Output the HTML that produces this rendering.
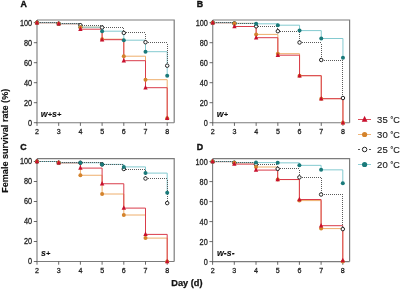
<!DOCTYPE html>
<html><head><meta charset="utf-8"><style>
html,body{margin:0;padding:0;background:#fff;width:400px;height:290px;overflow:hidden}
svg{display:block;will-change:transform;font-family:"Liberation Sans",sans-serif}
</style></head><body>
<svg width="400" height="290" viewBox="0 0 400 290" font-family='"Liberation Sans", sans-serif'>
<path d="M37 20H174.2V122.7" fill="none" stroke="#7c7c7c" stroke-width="1.2"/>
<path d="M37 20V122.7H174.2" fill="none" stroke="#7c7c7c" stroke-width="1.1"/>
<path d="M33.8 122.7H37" stroke="#444444" stroke-width="0.8"/>
<text transform="matrix(0.86 0 0 1 32.1 125.6)" text-anchor="end" font-size="8.5" fill="#1a1a1a" stroke="#222" stroke-width="0.28">0</text>
<path d="M33.8 102.7H37" stroke="#444444" stroke-width="0.8"/>
<text transform="matrix(0.86 0 0 1 32.1 105.6)" text-anchor="end" font-size="8.5" fill="#1a1a1a" stroke="#222" stroke-width="0.28">20</text>
<path d="M33.8 82.7H37" stroke="#444444" stroke-width="0.8"/>
<text transform="matrix(0.86 0 0 1 32.1 85.6)" text-anchor="end" font-size="8.5" fill="#1a1a1a" stroke="#222" stroke-width="0.28">40</text>
<path d="M33.8 62.7H37" stroke="#444444" stroke-width="0.8"/>
<text transform="matrix(0.86 0 0 1 32.1 65.6)" text-anchor="end" font-size="8.5" fill="#1a1a1a" stroke="#222" stroke-width="0.28">60</text>
<path d="M33.8 42.7H37" stroke="#444444" stroke-width="0.8"/>
<text transform="matrix(0.86 0 0 1 32.1 45.6)" text-anchor="end" font-size="8.5" fill="#1a1a1a" stroke="#222" stroke-width="0.28">80</text>
<path d="M33.8 22.7H37" stroke="#444444" stroke-width="0.8"/>
<text transform="matrix(0.86 0 0 1 32.1 25.6)" text-anchor="end" font-size="8.5" fill="#1a1a1a" stroke="#222" stroke-width="0.28">100</text>
<path d="M37 122.7V125.9" stroke="#444444" stroke-width="0.8"/>
<text transform="matrix(0.9 0 0 1 37 134.2)" text-anchor="middle" font-size="7.9" fill="#1a1a1a" stroke="#222" stroke-width="0.28">2</text>
<path d="M58.7 122.7V125.9" stroke="#444444" stroke-width="0.8"/>
<text transform="matrix(0.9 0 0 1 58.7 134.2)" text-anchor="middle" font-size="7.9" fill="#1a1a1a" stroke="#222" stroke-width="0.28">3</text>
<path d="M80.4 122.7V125.9" stroke="#444444" stroke-width="0.8"/>
<text transform="matrix(0.9 0 0 1 80.4 134.2)" text-anchor="middle" font-size="7.9" fill="#1a1a1a" stroke="#222" stroke-width="0.28">4</text>
<path d="M102.1 122.7V125.9" stroke="#444444" stroke-width="0.8"/>
<text transform="matrix(0.9 0 0 1 102.1 134.2)" text-anchor="middle" font-size="7.9" fill="#1a1a1a" stroke="#222" stroke-width="0.28">5</text>
<path d="M123.8 122.7V125.9" stroke="#444444" stroke-width="0.8"/>
<text transform="matrix(0.9 0 0 1 123.8 134.2)" text-anchor="middle" font-size="7.9" fill="#1a1a1a" stroke="#222" stroke-width="0.28">6</text>
<path d="M145.5 122.7V125.9" stroke="#444444" stroke-width="0.8"/>
<text transform="matrix(0.9 0 0 1 145.5 134.2)" text-anchor="middle" font-size="7.9" fill="#1a1a1a" stroke="#222" stroke-width="0.28">7</text>
<path d="M167.2 122.7V125.9" stroke="#444444" stroke-width="0.8"/>
<text transform="matrix(0.9 0 0 1 167.2 134.2)" text-anchor="middle" font-size="7.9" fill="#1a1a1a" stroke="#222" stroke-width="0.28">8</text>
<path d="M37 22.7H58.7V23.7H80.4V27.2H102.1V39.2H123.8V56.2H145.5V79.7H167.2V118.2" fill="none" stroke="#eeae6c" stroke-width="1.0"/>
<path d="M37 22.7H58.7V23.7H80.4V29.2H102.1V39.7H123.8V60.7H145.5V87.7H167.2V118.2" fill="none" stroke="#d93c4a" stroke-width="1.0"/>
<path d="M37 22.7H58.7V23.7H80.4V27.2H102.1V31.2H123.8V40.2H145.5V51.7H167.2V75.7" fill="none" stroke="#84cad0" stroke-width="1.0"/>
<path d="M38 22h1v1h-1zM40 22h1v1h-1zM42 22h1v1h-1zM44 22h1v1h-1zM46 22h1v1h-1zM48 22h1v1h-1zM50 22h1v1h-1zM52 22h1v1h-1zM54 22h1v1h-1zM56 22h1v1h-1zM58 22h1v1h-1zM60 23h1v1h-1zM62 23h1v1h-1zM64 23h1v1h-1zM66 23h1v1h-1zM68 23h1v1h-1zM70 23h1v1h-1zM72 23h1v1h-1zM74 23h1v1h-1zM76 23h1v1h-1zM78 23h1v1h-1zM80 23h1v1h-1zM80 24h1v1h-1zM82 25h1v1h-1zM84 25h1v1h-1zM86 25h1v1h-1zM88 25h1v1h-1zM90 25h1v1h-1zM92 25h1v1h-1zM94 25h1v1h-1zM96 25h1v1h-1zM98 25h1v1h-1zM100 25h1v1h-1zM102 25h1v1h-1zM102 26h1v1h-1zM104 27h1v1h-1zM106 27h1v1h-1zM108 27h1v1h-1zM110 27h1v1h-1zM112 27h1v1h-1zM114 27h1v1h-1zM116 27h1v1h-1zM118 27h1v1h-1zM120 27h1v1h-1zM122 27h1v1h-1zM123 28h1v1h-1zM123 30h1v1h-1zM123 32h1v1h-1zM124 32h1v1h-1zM126 32h1v1h-1zM128 32h1v1h-1zM130 32h1v1h-1zM132 32h1v1h-1zM134 32h1v1h-1zM136 32h1v1h-1zM138 32h1v1h-1zM140 32h1v1h-1zM142 32h1v1h-1zM144 32h1v1h-1zM145 34h1v1h-1zM145 36h1v1h-1zM145 38h1v1h-1zM145 40h1v1h-1zM145 42h1v1h-1zM146 42h1v1h-1zM148 42h1v1h-1zM150 42h1v1h-1zM152 42h1v1h-1zM154 42h1v1h-1zM156 42h1v1h-1zM158 42h1v1h-1zM160 42h1v1h-1zM162 42h1v1h-1zM164 42h1v1h-1zM166 42h1v1h-1zM167 44h1v1h-1zM167 46h1v1h-1zM167 48h1v1h-1zM167 50h1v1h-1zM167 52h1v1h-1zM167 54h1v1h-1zM167 56h1v1h-1zM167 58h1v1h-1zM167 60h1v1h-1zM167 62h1v1h-1zM167 64h1v1h-1z" fill="#5a5a5a"/>
<circle cx="37" cy="22.7" r="1.75" fill="#fff" stroke="#222222" stroke-width="1"/>
<circle cx="58.7" cy="23.7" r="1.75" fill="#fff" stroke="#222222" stroke-width="1"/>
<circle cx="80.4" cy="25.2" r="1.75" fill="#fff" stroke="#222222" stroke-width="1"/>
<circle cx="102.1" cy="27.5" r="1.75" fill="#fff" stroke="#222222" stroke-width="1"/>
<circle cx="123.8" cy="32.9" r="1.75" fill="#fff" stroke="#222222" stroke-width="1"/>
<circle cx="145.5" cy="42.2" r="1.75" fill="#fff" stroke="#222222" stroke-width="1"/>
<circle cx="167.2" cy="65.7" r="1.75" fill="#fff" stroke="#222222" stroke-width="1"/>
<circle cx="37" cy="22.7" r="2" fill="#1a7a7a"/>
<circle cx="58.7" cy="23.7" r="2" fill="#1a7a7a"/>
<circle cx="80.4" cy="27.2" r="2" fill="#1a7a7a"/>
<circle cx="102.1" cy="31.2" r="2" fill="#1a7a7a"/>
<circle cx="123.8" cy="40.2" r="2" fill="#1a7a7a"/>
<circle cx="145.5" cy="51.7" r="2" fill="#1a7a7a"/>
<circle cx="167.2" cy="75.7" r="2" fill="#1a7a7a"/>
<circle cx="37" cy="22.7" r="2" fill="#d4832c"/>
<circle cx="58.7" cy="23.7" r="2" fill="#d4832c"/>
<circle cx="80.4" cy="27.2" r="2" fill="#d4832c"/>
<circle cx="102.1" cy="39.2" r="2" fill="#d4832c"/>
<circle cx="123.8" cy="56.2" r="2" fill="#d4832c"/>
<circle cx="145.5" cy="79.7" r="2" fill="#d4832c"/>
<circle cx="167.2" cy="118.2" r="2" fill="#d4832c"/>
<path d="M37 19.91L39.2 24.41L34.8 24.41Z" fill="#c8102e"/>
<path d="M58.7 20.91L60.9 25.41L56.5 25.41Z" fill="#c8102e"/>
<path d="M80.4 26.41L82.6 30.91L78.2 30.91Z" fill="#c8102e"/>
<path d="M102.1 36.91L104.3 41.41L99.9 41.41Z" fill="#c8102e"/>
<path d="M123.8 57.91L126 62.41L121.6 62.41Z" fill="#c8102e"/>
<path d="M145.5 84.91L147.7 89.41L143.3 89.41Z" fill="#c8102e"/>
<path d="M167.2 115.41L169.4 119.91L165 119.91Z" fill="#c8102e"/>
<text x="20.6" y="7.3" font-size="8.8" font-weight="bold" fill="#111" stroke="#111" stroke-width="0.4">A</text>
<text x="40.8" y="117" font-size="8.8" font-weight="bold" font-style="italic" fill="#111" stroke="#111" stroke-width="0.1"><tspan y="117">w</tspan><tspan font-size="7.4" y="116.5">+</tspan><tspan y="117">s</tspan><tspan font-size="7.4" y="116.5">+</tspan></text>
<path d="M212.75 20H349.6V122.7" fill="none" stroke="#7c7c7c" stroke-width="1.2"/>
<path d="M212.75 20V122.7H349.6" fill="none" stroke="#7c7c7c" stroke-width="1.1"/>
<path d="M209.55 122.7H212.75" stroke="#444444" stroke-width="0.8"/>
<text transform="matrix(0.86 0 0 1 207.85 125.6)" text-anchor="end" font-size="8.5" fill="#1a1a1a" stroke="#222" stroke-width="0.28">0</text>
<path d="M209.55 102.7H212.75" stroke="#444444" stroke-width="0.8"/>
<text transform="matrix(0.86 0 0 1 207.85 105.6)" text-anchor="end" font-size="8.5" fill="#1a1a1a" stroke="#222" stroke-width="0.28">20</text>
<path d="M209.55 82.7H212.75" stroke="#444444" stroke-width="0.8"/>
<text transform="matrix(0.86 0 0 1 207.85 85.6)" text-anchor="end" font-size="8.5" fill="#1a1a1a" stroke="#222" stroke-width="0.28">40</text>
<path d="M209.55 62.7H212.75" stroke="#444444" stroke-width="0.8"/>
<text transform="matrix(0.86 0 0 1 207.85 65.6)" text-anchor="end" font-size="8.5" fill="#1a1a1a" stroke="#222" stroke-width="0.28">60</text>
<path d="M209.55 42.7H212.75" stroke="#444444" stroke-width="0.8"/>
<text transform="matrix(0.86 0 0 1 207.85 45.6)" text-anchor="end" font-size="8.5" fill="#1a1a1a" stroke="#222" stroke-width="0.28">80</text>
<path d="M209.55 22.7H212.75" stroke="#444444" stroke-width="0.8"/>
<text transform="matrix(0.86 0 0 1 207.85 25.6)" text-anchor="end" font-size="8.5" fill="#1a1a1a" stroke="#222" stroke-width="0.28">100</text>
<path d="M212.75 122.7V125.9" stroke="#444444" stroke-width="0.8"/>
<text transform="matrix(0.9 0 0 1 212.75 134.2)" text-anchor="middle" font-size="7.9" fill="#1a1a1a" stroke="#222" stroke-width="0.28">2</text>
<path d="M234.45 122.7V125.9" stroke="#444444" stroke-width="0.8"/>
<text transform="matrix(0.9 0 0 1 234.45 134.2)" text-anchor="middle" font-size="7.9" fill="#1a1a1a" stroke="#222" stroke-width="0.28">3</text>
<path d="M256.15 122.7V125.9" stroke="#444444" stroke-width="0.8"/>
<text transform="matrix(0.9 0 0 1 256.15 134.2)" text-anchor="middle" font-size="7.9" fill="#1a1a1a" stroke="#222" stroke-width="0.28">4</text>
<path d="M277.85 122.7V125.9" stroke="#444444" stroke-width="0.8"/>
<text transform="matrix(0.9 0 0 1 277.85 134.2)" text-anchor="middle" font-size="7.9" fill="#1a1a1a" stroke="#222" stroke-width="0.28">5</text>
<path d="M299.55 122.7V125.9" stroke="#444444" stroke-width="0.8"/>
<text transform="matrix(0.9 0 0 1 299.55 134.2)" text-anchor="middle" font-size="7.9" fill="#1a1a1a" stroke="#222" stroke-width="0.28">6</text>
<path d="M321.25 122.7V125.9" stroke="#444444" stroke-width="0.8"/>
<text transform="matrix(0.9 0 0 1 321.25 134.2)" text-anchor="middle" font-size="7.9" fill="#1a1a1a" stroke="#222" stroke-width="0.28">7</text>
<path d="M342.95 122.7V125.9" stroke="#444444" stroke-width="0.8"/>
<text transform="matrix(0.9 0 0 1 342.95 134.2)" text-anchor="middle" font-size="7.9" fill="#1a1a1a" stroke="#222" stroke-width="0.28">8</text>
<path d="M212.75 22.7H234.45V23.4H256.15V34.4H277.85V53.7H299.55V75.7H321.25V98.7H342.95V122.7" fill="none" stroke="#eeae6c" stroke-width="1.0"/>
<path d="M212.75 22.7H234.45V26.5H256.15V37.7H277.85V55.2H299.55V75.7H321.25V98.7H342.95V122.7" fill="none" stroke="#d93c4a" stroke-width="1.0"/>
<path d="M212.75 22.7H234.45V23.4H256.15V23.8H277.85V25.2H299.55V30.6H321.25V38.5H342.95V57.7" fill="none" stroke="#84cad0" stroke-width="1.0"/>
<path d="M214 22h1v1h-1zM216 22h1v1h-1zM218 22h1v1h-1zM220 22h1v1h-1zM222 22h1v1h-1zM224 22h1v1h-1zM226 22h1v1h-1zM228 22h1v1h-1zM230 22h1v1h-1zM232 22h1v1h-1zM234 22h1v1h-1zM236 23h1v1h-1zM238 23h1v1h-1zM240 23h1v1h-1zM242 23h1v1h-1zM244 23h1v1h-1zM246 23h1v1h-1zM248 23h1v1h-1zM250 23h1v1h-1zM252 23h1v1h-1zM254 23h1v1h-1zM256 23h1v1h-1zM256 24h1v1h-1zM256 26h1v1h-1zM258 26h1v1h-1zM260 26h1v1h-1zM262 26h1v1h-1zM264 26h1v1h-1zM266 26h1v1h-1zM268 26h1v1h-1zM270 26h1v1h-1zM272 26h1v1h-1zM274 26h1v1h-1zM276 26h1v1h-1zM277 28h1v1h-1zM277 30h1v1h-1zM278 31h1v1h-1zM280 31h1v1h-1zM282 31h1v1h-1zM284 31h1v1h-1zM286 31h1v1h-1zM288 31h1v1h-1zM290 31h1v1h-1zM292 31h1v1h-1zM294 31h1v1h-1zM296 31h1v1h-1zM298 31h1v1h-1zM299 32h1v1h-1zM299 34h1v1h-1zM299 36h1v1h-1zM299 38h1v1h-1zM299 40h1v1h-1zM299 42h1v1h-1zM300 42h1v1h-1zM302 42h1v1h-1zM304 42h1v1h-1zM306 42h1v1h-1zM308 42h1v1h-1zM310 42h1v1h-1zM312 42h1v1h-1zM314 42h1v1h-1zM316 42h1v1h-1zM318 42h1v1h-1zM320 42h1v1h-1zM321 44h1v1h-1zM321 46h1v1h-1zM321 48h1v1h-1zM321 50h1v1h-1zM321 52h1v1h-1zM321 54h1v1h-1zM321 56h1v1h-1zM321 58h1v1h-1zM321 60h1v1h-1zM322 60h1v1h-1zM324 60h1v1h-1zM326 60h1v1h-1zM328 60h1v1h-1zM330 60h1v1h-1zM332 60h1v1h-1zM334 60h1v1h-1zM336 60h1v1h-1zM338 60h1v1h-1zM340 60h1v1h-1zM342 60h1v1h-1zM342 60h1v1h-1zM342 62h1v1h-1zM342 64h1v1h-1zM342 66h1v1h-1zM342 68h1v1h-1zM342 70h1v1h-1zM342 72h1v1h-1zM342 74h1v1h-1zM342 76h1v1h-1zM342 78h1v1h-1zM342 80h1v1h-1zM342 82h1v1h-1zM342 84h1v1h-1zM342 86h1v1h-1zM342 88h1v1h-1zM342 90h1v1h-1zM342 92h1v1h-1zM342 94h1v1h-1zM342 96h1v1h-1zM342 98h1v1h-1z" fill="#5a5a5a"/>
<circle cx="212.75" cy="22.7" r="1.75" fill="#fff" stroke="#222222" stroke-width="1"/>
<circle cx="234.45" cy="23.4" r="1.75" fill="#fff" stroke="#222222" stroke-width="1"/>
<circle cx="256.15" cy="26.3" r="1.75" fill="#fff" stroke="#222222" stroke-width="1"/>
<circle cx="277.85" cy="31.2" r="1.75" fill="#fff" stroke="#222222" stroke-width="1"/>
<circle cx="299.55" cy="42.5" r="1.75" fill="#fff" stroke="#222222" stroke-width="1"/>
<circle cx="321.25" cy="60" r="1.75" fill="#fff" stroke="#222222" stroke-width="1"/>
<circle cx="342.95" cy="98" r="1.75" fill="#fff" stroke="#222222" stroke-width="1"/>
<circle cx="212.75" cy="22.7" r="2" fill="#1a7a7a"/>
<circle cx="234.45" cy="23.4" r="2" fill="#1a7a7a"/>
<circle cx="256.15" cy="23.8" r="2" fill="#1a7a7a"/>
<circle cx="277.85" cy="25.2" r="2" fill="#1a7a7a"/>
<circle cx="299.55" cy="30.6" r="2" fill="#1a7a7a"/>
<circle cx="321.25" cy="38.5" r="2" fill="#1a7a7a"/>
<circle cx="342.95" cy="57.7" r="2" fill="#1a7a7a"/>
<circle cx="212.75" cy="22.7" r="2" fill="#d4832c"/>
<circle cx="234.45" cy="23.4" r="2" fill="#d4832c"/>
<circle cx="256.15" cy="34.4" r="2" fill="#d4832c"/>
<circle cx="277.85" cy="53.7" r="2" fill="#d4832c"/>
<circle cx="299.55" cy="75.7" r="2" fill="#d4832c"/>
<circle cx="321.25" cy="98.7" r="2" fill="#d4832c"/>
<circle cx="342.95" cy="122.7" r="2" fill="#d4832c"/>
<path d="M212.75 19.91L214.95 24.41L210.55 24.41Z" fill="#c8102e"/>
<path d="M234.45 23.71L236.65 28.21L232.25 28.21Z" fill="#c8102e"/>
<path d="M256.15 34.91L258.35 39.41L253.95 39.41Z" fill="#c8102e"/>
<path d="M277.85 52.41L280.05 56.91L275.65 56.91Z" fill="#c8102e"/>
<path d="M299.55 72.91L301.75 77.41L297.35 77.41Z" fill="#c8102e"/>
<path d="M321.25 95.91L323.45 100.41L319.05 100.41Z" fill="#c8102e"/>
<path d="M342.95 119.91L345.15 124.41L340.75 124.41Z" fill="#c8102e"/>
<text x="196.8" y="7.3" font-size="8.8" font-weight="bold" fill="#111" stroke="#111" stroke-width="0.4">B</text>
<text x="216.8" y="117" font-size="8.8" font-weight="bold" font-style="italic" fill="#111" stroke="#111" stroke-width="0.1"><tspan y="117">w</tspan><tspan font-size="7.4" y="116.5">+</tspan></text>
<path d="M37 158.7H174.2V261.5" fill="none" stroke="#7c7c7c" stroke-width="1.2"/>
<path d="M37 158.7V261.5H174.2" fill="none" stroke="#7c7c7c" stroke-width="1.1"/>
<path d="M33.8 261.5H37" stroke="#444444" stroke-width="0.8"/>
<text transform="matrix(0.86 0 0 1 32.1 264.4)" text-anchor="end" font-size="8.5" fill="#1a1a1a" stroke="#222" stroke-width="0.28">0</text>
<path d="M33.8 241.5H37" stroke="#444444" stroke-width="0.8"/>
<text transform="matrix(0.86 0 0 1 32.1 244.4)" text-anchor="end" font-size="8.5" fill="#1a1a1a" stroke="#222" stroke-width="0.28">20</text>
<path d="M33.8 221.5H37" stroke="#444444" stroke-width="0.8"/>
<text transform="matrix(0.86 0 0 1 32.1 224.4)" text-anchor="end" font-size="8.5" fill="#1a1a1a" stroke="#222" stroke-width="0.28">40</text>
<path d="M33.8 201.5H37" stroke="#444444" stroke-width="0.8"/>
<text transform="matrix(0.86 0 0 1 32.1 204.4)" text-anchor="end" font-size="8.5" fill="#1a1a1a" stroke="#222" stroke-width="0.28">60</text>
<path d="M33.8 181.5H37" stroke="#444444" stroke-width="0.8"/>
<text transform="matrix(0.86 0 0 1 32.1 184.4)" text-anchor="end" font-size="8.5" fill="#1a1a1a" stroke="#222" stroke-width="0.28">80</text>
<path d="M33.8 161.5H37" stroke="#444444" stroke-width="0.8"/>
<text transform="matrix(0.86 0 0 1 32.1 164.4)" text-anchor="end" font-size="8.5" fill="#1a1a1a" stroke="#222" stroke-width="0.28">100</text>
<path d="M37 261.5V264.7" stroke="#444444" stroke-width="0.8"/>
<text transform="matrix(0.9 0 0 1 37 273)" text-anchor="middle" font-size="7.9" fill="#1a1a1a" stroke="#222" stroke-width="0.28">2</text>
<path d="M58.7 261.5V264.7" stroke="#444444" stroke-width="0.8"/>
<text transform="matrix(0.9 0 0 1 58.7 273)" text-anchor="middle" font-size="7.9" fill="#1a1a1a" stroke="#222" stroke-width="0.28">3</text>
<path d="M80.4 261.5V264.7" stroke="#444444" stroke-width="0.8"/>
<text transform="matrix(0.9 0 0 1 80.4 273)" text-anchor="middle" font-size="7.9" fill="#1a1a1a" stroke="#222" stroke-width="0.28">4</text>
<path d="M102.1 261.5V264.7" stroke="#444444" stroke-width="0.8"/>
<text transform="matrix(0.9 0 0 1 102.1 273)" text-anchor="middle" font-size="7.9" fill="#1a1a1a" stroke="#222" stroke-width="0.28">5</text>
<path d="M123.8 261.5V264.7" stroke="#444444" stroke-width="0.8"/>
<text transform="matrix(0.9 0 0 1 123.8 273)" text-anchor="middle" font-size="7.9" fill="#1a1a1a" stroke="#222" stroke-width="0.28">6</text>
<path d="M145.5 261.5V264.7" stroke="#444444" stroke-width="0.8"/>
<text transform="matrix(0.9 0 0 1 145.5 273)" text-anchor="middle" font-size="7.9" fill="#1a1a1a" stroke="#222" stroke-width="0.28">7</text>
<path d="M167.2 261.5V264.7" stroke="#444444" stroke-width="0.8"/>
<text transform="matrix(0.9 0 0 1 167.2 273)" text-anchor="middle" font-size="7.9" fill="#1a1a1a" stroke="#222" stroke-width="0.28">8</text>
<path d="M37 161.5H58.7V162.75H80.4V175.25H102.1V194H123.8V215H145.5V238.1H167.2V261.5" fill="none" stroke="#eeae6c" stroke-width="1.0"/>
<path d="M37 161.5H58.7V162.75H80.4V168.1H102.1V183.75H123.8V208.1H145.5V234.4H167.2V261.5" fill="none" stroke="#d93c4a" stroke-width="1.0"/>
<path d="M37 161.5H58.7V162.75H80.4V162.75H102.1V164.4H123.8V166.9H145.5V173.1H167.2V192.75" fill="none" stroke="#84cad0" stroke-width="1.0"/>
<path d="M38 161h1v1h-1zM40 161h1v1h-1zM42 161h1v1h-1zM44 161h1v1h-1zM46 161h1v1h-1zM48 161h1v1h-1zM50 161h1v1h-1zM52 161h1v1h-1zM54 161h1v1h-1zM56 161h1v1h-1zM58 161h1v1h-1zM58 162h1v1h-1zM60 162h1v1h-1zM62 162h1v1h-1zM64 162h1v1h-1zM66 162h1v1h-1zM68 162h1v1h-1zM70 162h1v1h-1zM72 162h1v1h-1zM74 162h1v1h-1zM76 162h1v1h-1zM78 162h1v1h-1zM80 162h1v1h-1zM82 162h1v1h-1zM84 162h1v1h-1zM86 162h1v1h-1zM88 162h1v1h-1zM90 162h1v1h-1zM92 162h1v1h-1zM94 162h1v1h-1zM96 162h1v1h-1zM98 162h1v1h-1zM100 162h1v1h-1zM102 162h1v1h-1zM102 164h1v1h-1zM104 164h1v1h-1zM106 164h1v1h-1zM108 164h1v1h-1zM110 164h1v1h-1zM112 164h1v1h-1zM114 164h1v1h-1zM116 164h1v1h-1zM118 164h1v1h-1zM120 164h1v1h-1zM122 164h1v1h-1zM123 166h1v1h-1zM123 168h1v1h-1zM124 169h1v1h-1zM126 169h1v1h-1zM128 169h1v1h-1zM130 169h1v1h-1zM132 169h1v1h-1zM134 169h1v1h-1zM136 169h1v1h-1zM138 169h1v1h-1zM140 169h1v1h-1zM142 169h1v1h-1zM144 169h1v1h-1zM145 170h1v1h-1zM145 172h1v1h-1zM145 174h1v1h-1zM145 176h1v1h-1zM145 178h1v1h-1zM146 178h1v1h-1zM148 178h1v1h-1zM150 178h1v1h-1zM152 178h1v1h-1zM154 178h1v1h-1zM156 178h1v1h-1zM158 178h1v1h-1zM160 178h1v1h-1zM162 178h1v1h-1zM164 178h1v1h-1zM166 178h1v1h-1zM167 180h1v1h-1zM167 182h1v1h-1zM167 184h1v1h-1zM167 186h1v1h-1zM167 188h1v1h-1zM167 190h1v1h-1zM167 192h1v1h-1zM167 194h1v1h-1zM167 196h1v1h-1zM167 198h1v1h-1zM167 200h1v1h-1zM167 202h1v1h-1z" fill="#5a5a5a"/>
<circle cx="37" cy="161.5" r="1.75" fill="#fff" stroke="#222222" stroke-width="1"/>
<circle cx="58.7" cy="162.75" r="1.75" fill="#fff" stroke="#222222" stroke-width="1"/>
<circle cx="80.4" cy="162.75" r="1.75" fill="#fff" stroke="#222222" stroke-width="1"/>
<circle cx="102.1" cy="164.4" r="1.75" fill="#fff" stroke="#222222" stroke-width="1"/>
<circle cx="123.8" cy="169" r="1.75" fill="#fff" stroke="#222222" stroke-width="1"/>
<circle cx="145.5" cy="178.5" r="1.75" fill="#fff" stroke="#222222" stroke-width="1"/>
<circle cx="167.2" cy="203.1" r="1.75" fill="#fff" stroke="#222222" stroke-width="1"/>
<circle cx="37" cy="161.5" r="2" fill="#1a7a7a"/>
<circle cx="58.7" cy="162.75" r="2" fill="#1a7a7a"/>
<circle cx="80.4" cy="162.75" r="2" fill="#1a7a7a"/>
<circle cx="102.1" cy="164.4" r="2" fill="#1a7a7a"/>
<circle cx="123.8" cy="166.9" r="2" fill="#1a7a7a"/>
<circle cx="145.5" cy="173.1" r="2" fill="#1a7a7a"/>
<circle cx="167.2" cy="192.75" r="2" fill="#1a7a7a"/>
<circle cx="37" cy="161.5" r="2" fill="#d4832c"/>
<circle cx="58.7" cy="162.75" r="2" fill="#d4832c"/>
<circle cx="80.4" cy="175.25" r="2" fill="#d4832c"/>
<circle cx="102.1" cy="194" r="2" fill="#d4832c"/>
<circle cx="123.8" cy="215" r="2" fill="#d4832c"/>
<circle cx="145.5" cy="238.1" r="2" fill="#d4832c"/>
<circle cx="167.2" cy="261.5" r="2" fill="#d4832c"/>
<path d="M37 158.71L39.2 163.21L34.8 163.21Z" fill="#c8102e"/>
<path d="M58.7 159.96L60.9 164.46L56.5 164.46Z" fill="#c8102e"/>
<path d="M80.4 165.31L82.6 169.81L78.2 169.81Z" fill="#c8102e"/>
<path d="M102.1 180.96L104.3 185.46L99.9 185.46Z" fill="#c8102e"/>
<path d="M123.8 205.31L126 209.81L121.6 209.81Z" fill="#c8102e"/>
<path d="M145.5 231.61L147.7 236.11L143.3 236.11Z" fill="#c8102e"/>
<path d="M167.2 258.71L169.4 263.21L165 263.21Z" fill="#c8102e"/>
<text x="20.2" y="150.3" font-size="8.8" font-weight="bold" fill="#111" stroke="#111" stroke-width="0.4">C</text>
<text x="41" y="256" font-size="8.8" font-weight="bold" font-style="italic" fill="#111" stroke="#111" stroke-width="0.1"><tspan y="256">s</tspan><tspan font-size="7.4" y="255.5">+</tspan></text>
<path d="M212.6 158.7H349.6V261.6" fill="none" stroke="#7c7c7c" stroke-width="1.2"/>
<path d="M212.6 158.7V261.6H349.6" fill="none" stroke="#7c7c7c" stroke-width="1.1"/>
<path d="M209.4 261.6H212.6" stroke="#444444" stroke-width="0.8"/>
<text transform="matrix(0.86 0 0 1 207.7 264.5)" text-anchor="end" font-size="8.5" fill="#1a1a1a" stroke="#222" stroke-width="0.28">0</text>
<path d="M209.4 241.6H212.6" stroke="#444444" stroke-width="0.8"/>
<text transform="matrix(0.86 0 0 1 207.7 244.5)" text-anchor="end" font-size="8.5" fill="#1a1a1a" stroke="#222" stroke-width="0.28">20</text>
<path d="M209.4 221.6H212.6" stroke="#444444" stroke-width="0.8"/>
<text transform="matrix(0.86 0 0 1 207.7 224.5)" text-anchor="end" font-size="8.5" fill="#1a1a1a" stroke="#222" stroke-width="0.28">40</text>
<path d="M209.4 201.6H212.6" stroke="#444444" stroke-width="0.8"/>
<text transform="matrix(0.86 0 0 1 207.7 204.5)" text-anchor="end" font-size="8.5" fill="#1a1a1a" stroke="#222" stroke-width="0.28">60</text>
<path d="M209.4 181.6H212.6" stroke="#444444" stroke-width="0.8"/>
<text transform="matrix(0.86 0 0 1 207.7 184.5)" text-anchor="end" font-size="8.5" fill="#1a1a1a" stroke="#222" stroke-width="0.28">80</text>
<path d="M209.4 161.6H212.6" stroke="#444444" stroke-width="0.8"/>
<text transform="matrix(0.86 0 0 1 207.7 164.5)" text-anchor="end" font-size="8.5" fill="#1a1a1a" stroke="#222" stroke-width="0.28">100</text>
<path d="M212.6 261.6V264.8" stroke="#444444" stroke-width="0.8"/>
<text transform="matrix(0.9 0 0 1 212.6 273.1)" text-anchor="middle" font-size="7.9" fill="#1a1a1a" stroke="#222" stroke-width="0.28">2</text>
<path d="M234.3 261.6V264.8" stroke="#444444" stroke-width="0.8"/>
<text transform="matrix(0.9 0 0 1 234.3 273.1)" text-anchor="middle" font-size="7.9" fill="#1a1a1a" stroke="#222" stroke-width="0.28">3</text>
<path d="M256 261.6V264.8" stroke="#444444" stroke-width="0.8"/>
<text transform="matrix(0.9 0 0 1 256 273.1)" text-anchor="middle" font-size="7.9" fill="#1a1a1a" stroke="#222" stroke-width="0.28">4</text>
<path d="M277.7 261.6V264.8" stroke="#444444" stroke-width="0.8"/>
<text transform="matrix(0.9 0 0 1 277.7 273.1)" text-anchor="middle" font-size="7.9" fill="#1a1a1a" stroke="#222" stroke-width="0.28">5</text>
<path d="M299.4 261.6V264.8" stroke="#444444" stroke-width="0.8"/>
<text transform="matrix(0.9 0 0 1 299.4 273.1)" text-anchor="middle" font-size="7.9" fill="#1a1a1a" stroke="#222" stroke-width="0.28">6</text>
<path d="M321.1 261.6V264.8" stroke="#444444" stroke-width="0.8"/>
<text transform="matrix(0.9 0 0 1 321.1 273.1)" text-anchor="middle" font-size="7.9" fill="#1a1a1a" stroke="#222" stroke-width="0.28">7</text>
<path d="M342.8 261.6V264.8" stroke="#444444" stroke-width="0.8"/>
<text transform="matrix(0.9 0 0 1 342.8 273.1)" text-anchor="middle" font-size="7.9" fill="#1a1a1a" stroke="#222" stroke-width="0.28">8</text>
<path d="M212.6 161.6H234.3V162.85H256V167H277.7V179.6H299.4V200.6H321.1V228.6H342.8V261.6" fill="none" stroke="#eeae6c" stroke-width="1.0"/>
<path d="M212.6 161.6H234.3V164.1H256V170.1H277.7V179.5H299.4V199.5H321.1V225.7H342.8V260.6" fill="none" stroke="#d93c4a" stroke-width="1.0"/>
<path d="M212.6 161.6H234.3V162.6H256V162.6H277.7V162.85H299.4V165.35H321.1V169.85H342.8V183.2" fill="none" stroke="#84cad0" stroke-width="1.0"/>
<path d="M214 161h1v1h-1zM216 161h1v1h-1zM218 161h1v1h-1zM220 161h1v1h-1zM222 161h1v1h-1zM224 161h1v1h-1zM226 161h1v1h-1zM228 161h1v1h-1zM230 161h1v1h-1zM232 161h1v1h-1zM234 161h1v1h-1zM234 162h1v1h-1zM236 162h1v1h-1zM238 162h1v1h-1zM240 162h1v1h-1zM242 162h1v1h-1zM244 162h1v1h-1zM246 162h1v1h-1zM248 162h1v1h-1zM250 162h1v1h-1zM252 162h1v1h-1zM254 162h1v1h-1zM256 162h1v1h-1zM256 164h1v1h-1zM256 164h1v1h-1zM258 164h1v1h-1zM260 164h1v1h-1zM262 164h1v1h-1zM264 164h1v1h-1zM266 164h1v1h-1zM268 164h1v1h-1zM270 164h1v1h-1zM272 164h1v1h-1zM274 164h1v1h-1zM276 164h1v1h-1zM277 166h1v1h-1zM277 168h1v1h-1zM278 168h1v1h-1zM280 168h1v1h-1zM282 168h1v1h-1zM284 168h1v1h-1zM286 168h1v1h-1zM288 168h1v1h-1zM290 168h1v1h-1zM292 168h1v1h-1zM294 168h1v1h-1zM296 168h1v1h-1zM298 168h1v1h-1zM299 170h1v1h-1zM299 172h1v1h-1zM299 174h1v1h-1zM299 176h1v1h-1zM300 177h1v1h-1zM302 177h1v1h-1zM304 177h1v1h-1zM306 177h1v1h-1zM308 177h1v1h-1zM310 177h1v1h-1zM312 177h1v1h-1zM314 177h1v1h-1zM316 177h1v1h-1zM318 177h1v1h-1zM320 177h1v1h-1zM321 178h1v1h-1zM321 180h1v1h-1zM321 182h1v1h-1zM321 184h1v1h-1zM321 186h1v1h-1zM321 188h1v1h-1zM321 190h1v1h-1zM321 192h1v1h-1zM321 194h1v1h-1zM322 194h1v1h-1zM324 194h1v1h-1zM326 194h1v1h-1zM328 194h1v1h-1zM330 194h1v1h-1zM332 194h1v1h-1zM334 194h1v1h-1zM336 194h1v1h-1zM338 194h1v1h-1zM340 194h1v1h-1zM342 194h1v1h-1zM342 196h1v1h-1zM342 198h1v1h-1zM342 200h1v1h-1zM342 202h1v1h-1zM342 204h1v1h-1zM342 206h1v1h-1zM342 208h1v1h-1zM342 210h1v1h-1zM342 212h1v1h-1zM342 214h1v1h-1zM342 216h1v1h-1zM342 218h1v1h-1zM342 220h1v1h-1zM342 222h1v1h-1zM342 224h1v1h-1zM342 226h1v1h-1zM342 228h1v1h-1z" fill="#5a5a5a"/>
<circle cx="212.6" cy="161.6" r="1.75" fill="#fff" stroke="#222222" stroke-width="1"/>
<circle cx="234.3" cy="162.85" r="1.75" fill="#fff" stroke="#222222" stroke-width="1"/>
<circle cx="256" cy="164.5" r="1.75" fill="#fff" stroke="#222222" stroke-width="1"/>
<circle cx="277.7" cy="168.85" r="1.75" fill="#fff" stroke="#222222" stroke-width="1"/>
<circle cx="299.4" cy="177.35" r="1.75" fill="#fff" stroke="#222222" stroke-width="1"/>
<circle cx="321.1" cy="194.5" r="1.75" fill="#fff" stroke="#222222" stroke-width="1"/>
<circle cx="342.8" cy="229.1" r="1.75" fill="#fff" stroke="#222222" stroke-width="1"/>
<circle cx="212.6" cy="161.6" r="2" fill="#1a7a7a"/>
<circle cx="234.3" cy="162.6" r="2" fill="#1a7a7a"/>
<circle cx="256" cy="162.6" r="2" fill="#1a7a7a"/>
<circle cx="277.7" cy="162.85" r="2" fill="#1a7a7a"/>
<circle cx="299.4" cy="165.35" r="2" fill="#1a7a7a"/>
<circle cx="321.1" cy="169.85" r="2" fill="#1a7a7a"/>
<circle cx="342.8" cy="183.2" r="2" fill="#1a7a7a"/>
<circle cx="212.6" cy="161.6" r="2" fill="#d4832c"/>
<circle cx="234.3" cy="162.85" r="2" fill="#d4832c"/>
<circle cx="256" cy="167" r="2" fill="#d4832c"/>
<circle cx="277.7" cy="179.6" r="2" fill="#d4832c"/>
<circle cx="299.4" cy="200.6" r="2" fill="#d4832c"/>
<circle cx="321.1" cy="228.6" r="2" fill="#d4832c"/>
<circle cx="342.8" cy="261.6" r="2" fill="#d4832c"/>
<path d="M212.6 158.81L214.8 163.31L210.4 163.31Z" fill="#c8102e"/>
<path d="M234.3 161.31L236.5 165.81L232.1 165.81Z" fill="#c8102e"/>
<path d="M256 167.31L258.2 171.81L253.8 171.81Z" fill="#c8102e"/>
<path d="M277.7 176.71L279.9 181.21L275.5 181.21Z" fill="#c8102e"/>
<path d="M299.4 196.71L301.6 201.21L297.2 201.21Z" fill="#c8102e"/>
<path d="M321.1 222.91L323.3 227.41L318.9 227.41Z" fill="#c8102e"/>
<path d="M342.8 257.81L345 262.31L340.6 262.31Z" fill="#c8102e"/>
<text x="196.8" y="150.3" font-size="8.8" font-weight="bold" fill="#111" stroke="#111" stroke-width="0.4">D</text>
<text x="217" y="256" font-size="8.8" font-weight="bold" font-style="italic" fill="#111" stroke="#111" stroke-width="0.1"><tspan y="256">w</tspan><tspan y="256">-</tspan><tspan y="256">s</tspan><tspan y="256">-</tspan></text>
<path d="M358 119.5H371" stroke="#d93c4a" stroke-width="0.9"/>
<path d="M364.6 115.87L367.46 121.72L361.74 121.72Z" fill="#c8102e"/>
<text x="377.1" y="122.85" font-size="9.5" fill="#1a1a1a" stroke="#222" stroke-width="0.15">35<tspan x="390.2" font-size="7.8" dy="-1.1">°</tspan><tspan x="393.3" font-size="9.1" dy="1.1">C</tspan></text>
<path d="M358 134.5H371" stroke="#eeae6c" stroke-width="0.9"/>
<circle cx="364.6" cy="134.5" r="2.6" fill="#d4832c"/>
<text x="377.1" y="137.85" font-size="9.5" fill="#1a1a1a" stroke="#222" stroke-width="0.15">30<tspan x="390.2" font-size="7.8" dy="-1.1">°</tspan><tspan x="393.3" font-size="9.1" dy="1.1">C</tspan></text>
<path d="M358 149h2v1h-2zM369 149h2v1h-2z" fill="#555"/>
<circle cx="364.6" cy="149.5" r="2.27" fill="#fff" stroke="#222222" stroke-width="1"/>
<text x="377.1" y="152.85" font-size="9.5" fill="#1a1a1a" stroke="#222" stroke-width="0.15">25<tspan x="390.2" font-size="7.8" dy="-1.1">°</tspan><tspan x="393.3" font-size="9.1" dy="1.1">C</tspan></text>
<path d="M358 164.5H371" stroke="#84cad0" stroke-width="0.9"/>
<circle cx="364.6" cy="164.5" r="2.6" fill="#1a7a7a"/>
<text x="377.1" y="167.85" font-size="9.5" fill="#1a1a1a" stroke="#222" stroke-width="0.15">20<tspan x="390.2" font-size="7.8" dy="-1.1">°</tspan><tspan x="393.3" font-size="9.1" dy="1.1">C</tspan></text>
<text transform="translate(8.4 140.8) rotate(-90)" text-anchor="middle" font-size="9.1" font-weight="bold" fill="#111" stroke="#111" stroke-width="0.15">Female survival rate (%)</text>
<text x="186.9" y="286.3" text-anchor="middle" font-size="9.2" font-weight="bold" fill="#111" stroke="#111" stroke-width="0.25">Day (d)</text>
</svg>
</body></html>
